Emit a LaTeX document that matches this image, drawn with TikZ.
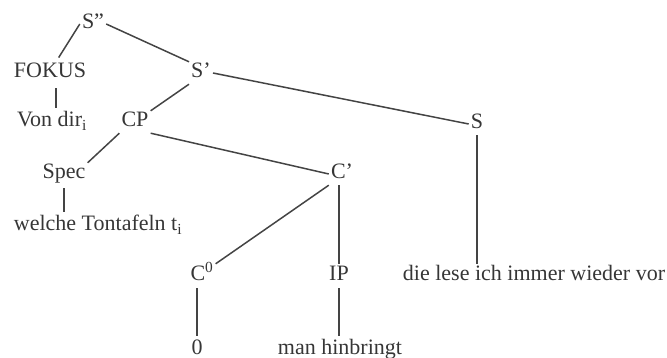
\documentclass[tikz,border=0pt]{standalone}
\usepackage{fontspec}
\setmainfont{Liberation Serif}
\usepackage{tikz}
\definecolor{ink}{HTML}{363636}
\definecolor{branch}{HTML}{444444}

\begin{document}
\begin{tikzpicture}[x=1pt,y=-1pt,font=\fontsize{22}{26}\selectfont,
  lbl/.style={text=ink,inner sep=2pt,text height=14pt,text depth=4pt},
  br/.style={draw=branch,line width=1.5pt}]
  \useasboundingbox (0,0) rectangle (667,358);
  \node[lbl] (Stwo) at (93,24) {S''};
  \node[lbl] (fokus) at (50,73) {FOKUS};
  \node[lbl] (Sone) at (201,73) {S'};
  \node[lbl] (vondir) at (52,122) {Von dir\textsubscript{i}};
  \node[lbl] (CP) at (135,122) {CP};
  \node[lbl] (S) at (477,124) {S};
  \node[lbl] (spec) at (64,174) {Spec};
  \node[lbl] (Cbar) at (342,174) {C'};
  \node[lbl] (tontafeln) at (98,226) {welche Tontafeln t\textsubscript{i}};
  \node[lbl] (Czero) at (202,275) {C\textsuperscript{0}};
  \node[lbl] (IP) at (339,275) {IP};
  \node[lbl] (vor) at (534,275) {die lese ich immer wieder vor};
  \node[lbl] (zero) at (197,349) {0};
  \node[lbl] (hinbringt) at (340,349) {man hinbringt};
  \draw[br,shorten >=5pt] (Stwo.west) -- ([xshift=6pt]fokus.north);
  \draw[br] (Stwo.east) -- (Sone.north west);
  \draw[br] (Sone.east) -- (S.west);
  \draw[br] (Sone.south west) -- (CP.north east);
  \draw[br,shorten <=4pt,shorten >=3pt] ([xshift=6pt]fokus.south) -- ([xshift=6pt]fokus.south |- vondir.north);
  \draw[br] (CP.south west) -- (spec.north east);
  \draw[br] (CP.south east) -- (Cbar.west);
  \draw[br,shorten <=3pt,shorten >=3pt] (spec.south) -- (spec.south |- tontafeln.north);
  \draw[br] (Cbar.south west) -- (Czero.north east);
  \draw[br] (IP.north |- Cbar.south) -- (IP.north);
  \draw[br] (S.south) -- (S.south |- vor.north);
  \draw[br,shorten <=2pt,shorten >=2pt] (zero.north |- Czero.south) -- (zero.north);
  \draw[br,shorten <=2pt,shorten >=2pt] (IP.south) -- (IP.south |- hinbringt.north);
\end{tikzpicture}
\end{document}
